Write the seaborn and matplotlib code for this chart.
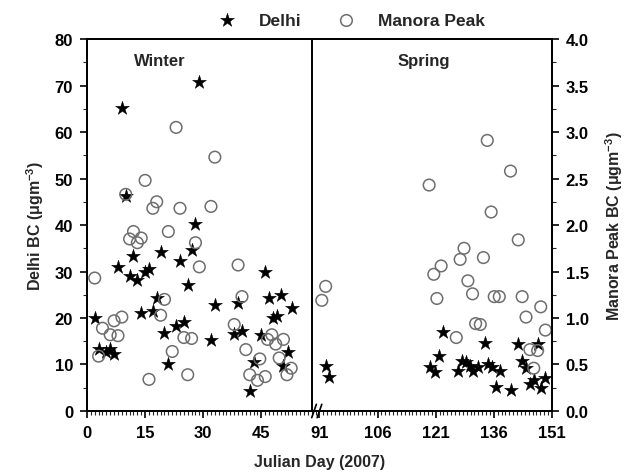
import numpy as np
import pandas as pd
import matplotlib
matplotlib.use("Agg")
import matplotlib.pyplot as plt
import matplotlib.transforms as mtransforms
from matplotlib.ticker import MultipleLocator, FixedLocator
import seaborn as sns

# ---- data (Julian day, BC) ----
delhi_day = [2, 3, 5, 6, 7, 8, 9, 10, 11, 12, 13, 14, 15, 16, 17, 18, 19, 20, 21,
             23, 24, 25, 26, 27, 28, 29, 32, 33, 38, 39, 40, 42, 43, 45, 46, 47,
             48, 49, 50, 50.5, 52, 53,
             92.6, 93.5, 119.6, 120.9, 121.8, 123, 126.7, 127.9, 128.7, 129.9,
             130.7, 132, 133.6, 134.6, 135.6, 136.5, 137.5, 140.5, 142.3, 143.3,
             144.3, 145.4, 146.3, 147.4, 148.2, 149.3]
delhi_bc = [20.1, 13.3, 12.7, 13.3, 12.3, 30.9, 65.2, 46.3, 29.0, 33.4, 28.2, 21.1,
            30.0, 30.5, 21.4, 24.3, 34.3, 16.8, 10.0, 18.2, 32.2, 19.2, 27.2, 34.6,
            40.2, 70.7, 15.3, 22.9, 16.6, 23.2, 17.3, 4.2, 10.5, 16.4, 29.8, 24.4,
            20.0, 20.4, 24.9, 9.6, 12.7, 22.1,
            9.7, 7.4, 9.5, 8.3, 11.9, 16.9, 8.7, 10.8, 10.5, 9.7, 8.7, 9.4, 14.6,
            10.2, 9.4, 5.2, 8.5, 4.6, 14.4, 10.7, 9.2, 5.7, 6.6, 14.4, 5.0, 7.1]

manora_day = [2, 3, 4, 6, 7, 8, 9, 10, 11, 12, 13, 14, 15, 16, 17, 18, 19, 20, 21,
              22, 23, 24, 25, 26, 27, 28, 29, 32, 33, 38, 39, 40, 41, 42, 44,
              44.6, 46, 46.6, 47.7, 48.7, 49.6, 50.7, 51.6, 52.7,
              91.6, 92.6, 119.3, 120.5, 121.3, 122.4, 126.3, 127.3, 128.3, 129.3,
              130.5, 131.3, 132.5, 133.3, 134.3, 135.3, 136.1, 137.4, 140.3, 142.3,
              143.3, 144.3, 145.3, 146.3, 147.3, 148.1, 149.3]
manora_bc = [1.43, 0.59, 0.89, 0.82, 0.97, 0.81, 1.01, 2.33, 1.85, 1.93, 1.81, 1.86,
             2.48, 0.34, 2.18, 2.25, 1.03, 1.20, 1.93, 0.64, 3.05, 2.18, 0.79, 0.39,
             0.78, 1.81, 1.55, 2.20, 2.73, 0.93, 1.57, 1.23, 0.66, 0.39, 0.33,
             0.56, 0.37, 0.77, 0.82, 0.72, 0.57, 0.77, 0.39, 0.46,
             1.19, 1.34, 2.43, 1.47, 1.21, 1.56, 0.79, 1.63, 1.75, 1.40, 1.26, 0.94,
             0.93, 1.65, 2.91, 2.14, 1.23, 1.23, 2.58, 1.84, 1.23, 1.01, 0.66, 0.46,
             0.65, 1.12, 0.87]

tick_days = [0, 15, 30, 45, 91, 106, 121, 136, 151]
GAP = 31  # days cut out of the axis between winter and spring


def squeeze(d):
    d = np.asarray(d, dtype=float)
    return np.where(d < 60, d, d - GAP)


delhi = pd.DataFrame({"x": squeeze(delhi_day), "bc": delhi_bc})
manora = pd.DataFrame({"x": squeeze(manora_day), "bc": manora_bc})

sns.set_style("ticks")
plt.rcParams["font.family"] = ["Liberation Sans", "DejaVu Sans"]
plt.rcParams["font.weight"] = "bold"
plt.rcParams["mathtext.fontset"] = "custom"
plt.rcParams["mathtext.rm"] = "Liberation Sans:bold"
plt.rcParams["mathtext.it"] = "Liberation Sans:bold"
plt.rcParams["mathtext.bf"] = "Liberation Sans:bold"
plt.rcParams["mathtext.default"] = "bf"

fig = plt.figure(figsize=(6.33, 4.77), dpi=100)
ax = fig.add_axes([0.1374, 0.1363, 0.7346, 0.7797])
ax2 = ax.twinx()

sns.scatterplot(data=delhi, x="x", y="bc", marker="*", s=110, color="black",
                edgecolor="black", linewidth=0.3, label="Delhi", ax=ax, legend=False)
sns.scatterplot(data=manora, x="x", y="bc", marker="o", s=70, facecolor="none",
                edgecolor="#6e6e6e", linewidth=1.1, label="Manora Peak", ax=ax2,
                legend=False)

ax.set_xlim(0, 120)
ax.set_ylim(0, 80)
ax2.set_ylim(0, 4.0)

ax.xaxis.set_major_locator(FixedLocator(squeeze(tick_days)))
ax.set_xticklabels([str(t) for t in tick_days])
ax.xaxis.set_minor_locator(MultipleLocator(1))
ax.yaxis.set_major_locator(MultipleLocator(10))
ax.yaxis.set_minor_locator(MultipleLocator(5))
ax2.yaxis.set_major_locator(MultipleLocator(0.5))
ax2.yaxis.set_minor_locator(MultipleLocator(0.25))
ax2.yaxis.set_major_formatter(matplotlib.ticker.FormatStrFormatter("%.1f"))

for a in (ax, ax2):
    a.tick_params(which="major", direction="out", length=5, width=1.2,
                  labelsize=12, pad=5, colors="black")
    a.tick_params(which="minor", direction="out", length=3, width=0.8)
    for sp in a.spines.values():
        sp.set_linewidth(1.3)
        sp.set_visible(True)
        sp.set_color("black")

ax.set_xlabel("Julian Day (2007)", fontsize=11.5, fontweight="bold", labelpad=10)
ax.set_ylabel(r"Delhi BC ($\mu$gm$^{-3}$)", fontsize=11.5, fontweight="bold",
              labelpad=6)
ax2.set_ylabel(r"Manora Peak BC ($\mu$gm$^{-3}$)", fontsize=11.5, fontweight="bold",
               labelpad=10)
ax2.set_xlabel("")

# season divider and labels
ax.axvline(58, color="black", lw=1.4)
ax.text(18.8, 75.3, "Winter", ha="center", va="center", fontsize=12, fontweight="bold")
ax.text(87, 75.3, "Spring", ha="center", va="center", fontsize=12, fontweight="bold")

# axis break mark
trans = mtransforms.blended_transform_factory(ax.transData, ax.transAxes)
for xb in (58.6, 60.0):
    ax.plot([xb - 0.6, xb + 0.6], [-0.018, 0.018], color="black", lw=1.2,
            transform=trans, clip_on=False, zorder=5)

h1, l1 = ax.get_legend_handles_labels()
h2, l2 = ax2.get_legend_handles_labels()
ax.legend(h1 + h2, l1 + l2, loc="center", bbox_to_anchor=(0.56, 1.05), ncol=2,
          frameon=False, fontsize=12.5, handletextpad=0.8, columnspacing=1.6,
          borderaxespad=0)

fig.savefig("out.png", dpi=100, facecolor="white")
